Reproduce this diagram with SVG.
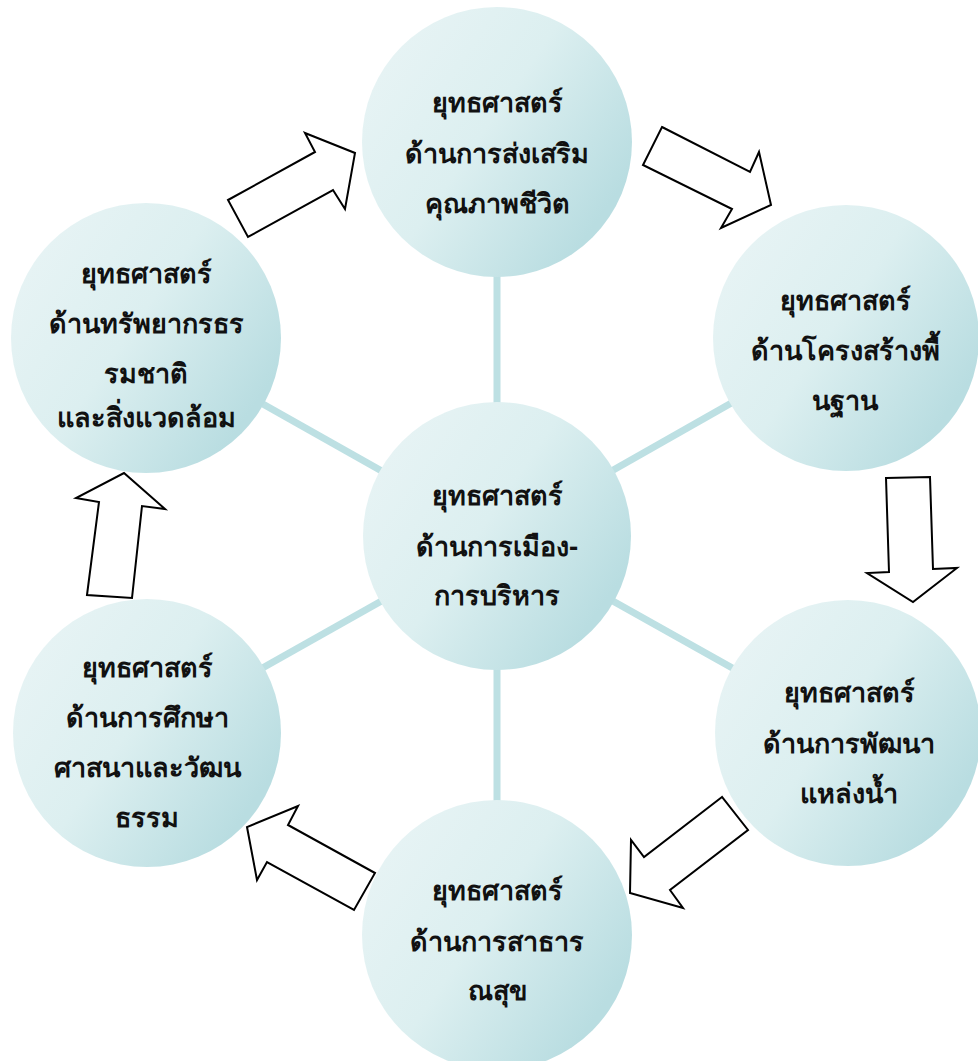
<svg xmlns="http://www.w3.org/2000/svg" width="978" height="1061" viewBox="0 0 978 1061">
<defs>
<linearGradient id="g" x1="0.1" y1="0.2" x2="0.9" y2="0.75">
<stop offset="0" stop-color="#e6f3f4"/>
<stop offset="0.45" stop-color="#dceff0"/>
<stop offset="1" stop-color="#b9dde1"/>
</linearGradient>
<style>
.n{fill:url(#g);stroke:none}
.t{font-family:"Noto Sans","DejaVu Sans",sans-serif;font-weight:bold;font-size:27px;fill:#111;text-anchor:middle}
.c{stroke:#bde0e3;stroke-width:7;fill:none}
.a{fill:#fff;stroke:#000;stroke-width:2;stroke-linejoin:miter}
</style>
</defs>
<rect width="978" height="1061" fill="#fff"/>
<g id="connectors">
<line class="c" x1="497" y1="536" x2="497" y2="142"/>
<line class="c" x1="497" y1="536" x2="846" y2="338"/>
<line class="c" x1="497" y1="536" x2="848" y2="733"/>
<line class="c" x1="497" y1="536" x2="497" y2="935"/>
<line class="c" x1="497" y1="536" x2="147" y2="733"/>
<line class="c" x1="497" y1="536" x2="146" y2="338"/>
</g>
<g id="arrows">
<polygon class="a" points="228,200 315,152 305,133 355,153 345,209 333,190 248,237"/>
<polygon class="a" points="662,127 750,172 759,152 771,205 721,228 732,209 643,165"/>
<polygon class="a" points="886,478 930,477 933,569 957,568 913,602 867,573 889,572"/>
<polygon class="a" points="722,797 644,857 631,840 630,893 683,908 670,890 748,830"/>
<polygon class="a" points="375,873 288,825 298,806 247,827 257,880 267,862 354,910"/>
<polygon class="a" points="87,595 99,502 76,498 124,473 165,509 142,506 132,598"/>
</g>
<g id="node-top">
<circle class="n" cx="497" cy="142" r="135"/>
<text class="t" x="497" y="112">ยุทธศาสตร์</text>
<text class="t" x="497" y="163">ด้านการส่งเสริม</text>
<text class="t" x="497" y="213">คุณภาพชีวิต</text>
</g>
<g id="node-right-top">
<circle class="n" cx="846" cy="338" r="133"/>
<text class="t" x="845" y="310">ยุทธศาสตร์</text>
<text class="t" x="845" y="360">ด้านโครงสร้างพื้</text>
<text class="t" x="845" y="410">นฐาน</text>
</g>
<g id="node-left-top">
<circle class="n" cx="146" cy="338" r="135"/>
<text class="t" x="146" y="283">ยุทธศาสตร์</text>
<text class="t" x="146" y="333">ด้านทรัพยากรธร</text>
<text class="t" x="146" y="383">รมชาติ</text>
<text class="t" x="146" y="427">และสิ่งแวดล้อม</text>
</g>
<g id="node-center">
<circle class="n" cx="497" cy="536" r="134"/>
<text class="t" x="497" y="505">ยุทธศาสตร์</text>
<text class="t" x="497" y="556">ด้านการเมือง-</text>
<text class="t" x="497" y="605">การบริหาร</text>
</g>
<g id="node-right-bottom">
<circle class="n" cx="848" cy="733" r="133"/>
<text class="t" x="849" y="702">ยุทธศาสตร์</text>
<text class="t" x="849" y="753">ด้านการพัฒนา</text>
<text class="t" x="849" y="803">แหล่งน้ำ</text>
</g>
<g id="node-left-bottom">
<circle class="n" cx="147" cy="733" r="134"/>
<text class="t" x="147" y="677">ยุทธศาสตร์</text>
<text class="t" x="147" y="727">ด้านการศึกษา</text>
<text class="t" x="147" y="777">ศาสนาและวัฒน</text>
<text class="t" x="147" y="827">ธรรม</text>
</g>
<g id="node-bottom">
<circle class="n" cx="497" cy="935" r="135"/>
<text class="t" x="497" y="900">ยุทธศาสตร์</text>
<text class="t" x="497" y="951">ด้านการสาธาร</text>
<text class="t" x="497" y="1000">ณสุข</text>
</g>
</svg>
